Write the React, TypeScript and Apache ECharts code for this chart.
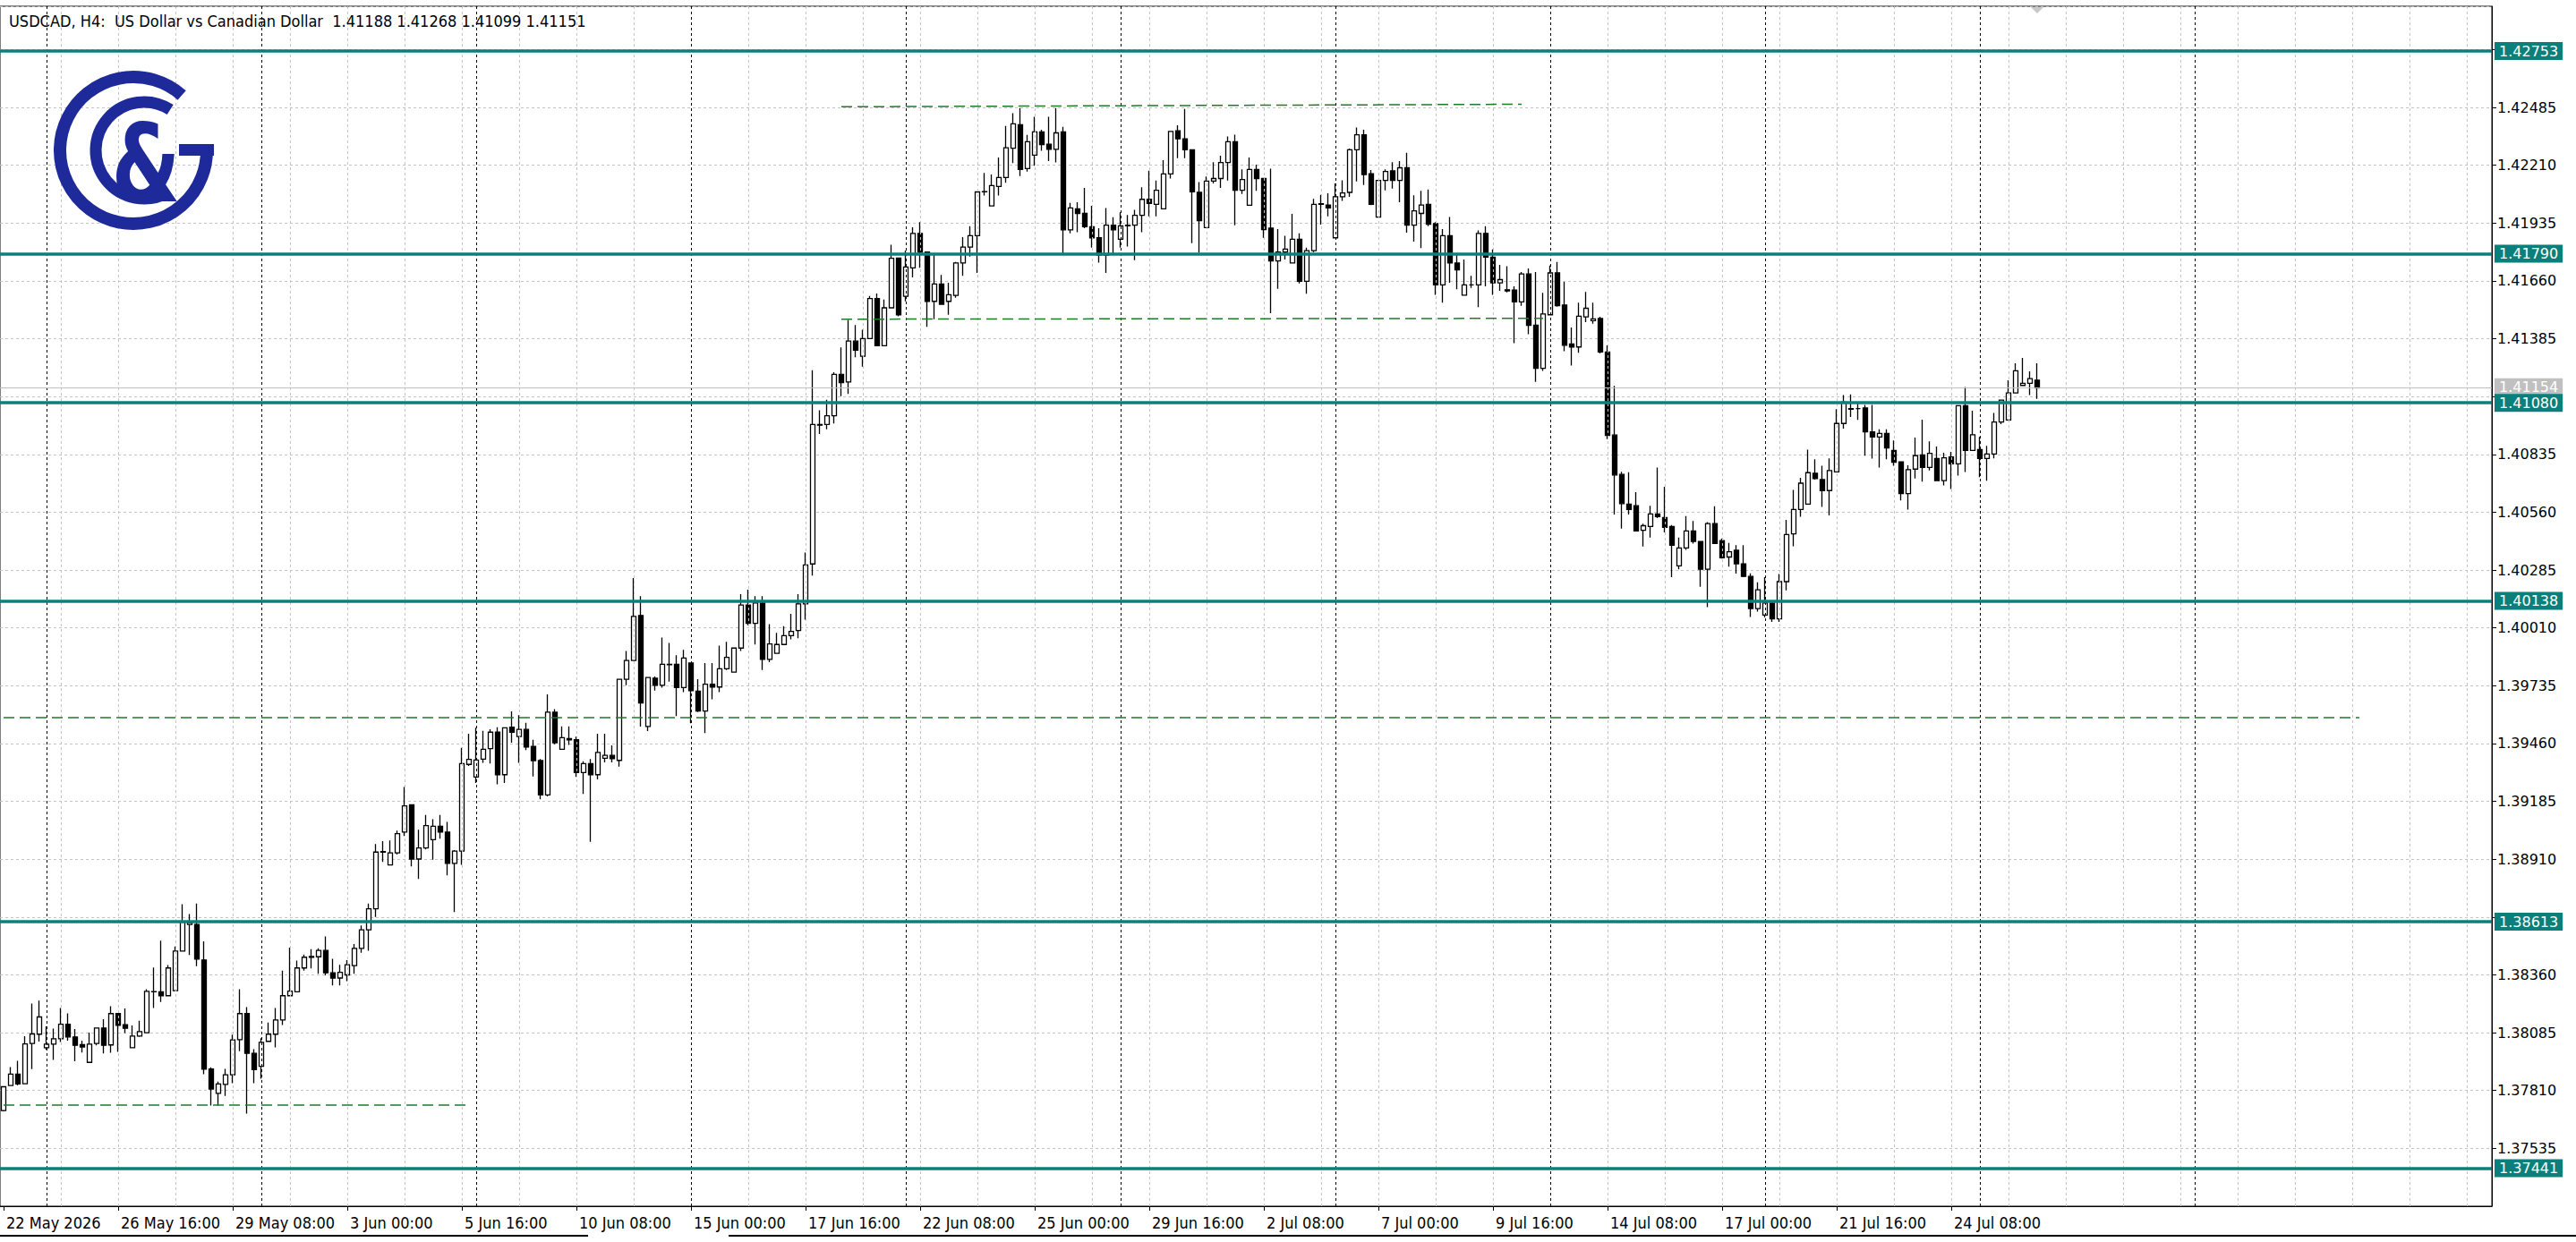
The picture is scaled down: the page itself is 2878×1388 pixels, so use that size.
import React, { useEffect, useRef } from "react";
import * as echarts from "echarts";

// ---------------- data ----------------
const TITLE = "USDCAD, H4:  US Dollar vs Canadian Dollar  1.41188 1.41268 1.41099 1.41151";
const SLOT_COUNT = 348; // H4 slots visible on the time axis (bars + right shift)
const XTICK_EVERY = 16;
const XTICK_LABELS = [
  "22 May 2026", "26 May 16:00", "29 May 08:00", "3 Jun 00:00", "5 Jun 16:00", "10 Jun 08:00",
  "15 Jun 00:00", "17 Jun 16:00", "22 Jun 08:00", "25 Jun 00:00", "29 Jun 16:00", "2 Jul 08:00",
  "7 Jul 00:00", "9 Jul 16:00", "14 Jul 08:00", "17 Jul 00:00", "21 Jul 16:00", "24 Jul 08:00",
];
const Y_MIN = 1.3726;
const Y_MAX = 1.42966;
const Y_STEP = 0.00275;
const Y_HIDDEN = [1.4276, 1.4111, 1.38635];
const LEVELS = [1.42753, 1.4179, 1.4108, 1.40138, 1.38613, 1.37441];
const BID = 1.41154;
// dashed trend lines: [barIndexFrom, priceFrom, barIndexTo, priceTo]
const TRENDS = [
  [117, 1.42488, 212, 1.425],
  [117, 1.41478, 215, 1.41482],
  [0, 1.39585, 329, 1.39585],
  [0, 1.37742, 65, 1.37742],
];

const OPEN = [
  1.37715, 1.37834, 1.37888, 1.37842, 1.38034, 1.38078, 1.38014, 1.38031, 1.38056, 1.38125,
  1.38065, 1.38028, 1.37944, 1.38034, 1.38107, 1.38027, 1.38176, 1.38123, 1.38014, 1.38069,
  1.38085, 1.3828, 1.38279, 1.38261, 1.38285, 1.38473, 1.386, 1.386, 1.38431, 1.37912,
  1.37797, 1.37839, 1.37885, 1.38052, 1.38176, 1.37987, 1.37925, 1.38044, 1.38078, 1.38146,
  1.38261, 1.3828, 1.38393, 1.38444, 1.38446, 1.38476, 1.3837, 1.38345, 1.3836, 1.38404,
  1.38486, 1.38574, 1.38674, 1.38944, 1.38883, 1.3894, 1.39039, 1.39169, 1.38911, 1.38964,
  1.39003, 1.39067, 1.39039, 1.3889, 1.38949, 1.39361, 1.39301, 1.39386, 1.39436, 1.39514,
  1.39312, 1.39538, 1.39493, 1.39527, 1.39446, 1.39379, 1.39216, 1.39609, 1.39433, 1.39478,
  1.39478, 1.39322, 1.39365, 1.39312, 1.3939, 1.39404, 1.3938, 1.39766, 1.39855, 1.40069,
  1.39541, 1.39771, 1.39737, 1.39835, 1.39837, 1.39726, 1.39843, 1.39709, 1.39615, 1.39742,
  1.39729, 1.39816, 1.398, 1.39914, 1.40119, 1.40032, 1.40128, 1.3986, 1.39889, 1.39931,
  1.39973, 1.39998, 1.40124, 1.40314, 1.40977, 1.40977, 1.41019, 1.41216, 1.41179, 1.41374,
  1.41302, 1.41386, 1.41576, 1.41352, 1.41532, 1.41769, 1.41587, 1.41722, 1.41886, 1.41797,
  1.41563, 1.41645, 1.41563, 1.41591, 1.41745, 1.41821, 1.41875, 1.42085, 1.42017, 1.42109,
  1.42152, 1.42291, 1.42403, 1.42194, 1.42258, 1.42369, 1.4231, 1.42286, 1.42369, 1.41903,
  1.42003, 1.41981, 1.41918, 1.41865, 1.41783, 1.41925, 1.41858, 1.41922, 1.41925, 1.41972,
  1.42048, 1.42024, 1.42003, 1.42169, 1.42374, 1.42336, 1.42284, 1.42081, 1.41913, 1.42135,
  1.42147, 1.42223, 1.42322, 1.42091, 1.4202, 1.4219, 1.42147, 1.41911, 1.41755, 1.41797,
  1.41745, 1.41858, 1.41658, 1.41804, 1.42024, 1.42021, 1.41865, 1.4206, 1.42081, 1.42284,
  1.42355, 1.4217, 1.41963, 1.42138, 1.42183, 1.42138, 1.42198, 1.41925, 1.41981, 1.42024,
  1.41932, 1.41641, 1.41875, 1.41745, 1.41592, 1.41641, 1.41641, 1.41886, 1.41773, 1.41651,
  1.41618, 1.41617, 1.4156, 1.41693, 1.41449, 1.41244, 1.41499, 1.41698, 1.41545, 1.4136,
  1.41346, 1.41489, 1.41471, 1.41481, 1.41322, 1.40927, 1.4074, 1.40598, 1.40591, 1.40474,
  1.40492, 1.40552, 1.40535, 1.40492, 1.40305, 1.4039, 1.40471, 1.40421, 1.40289, 1.40506,
  1.40425, 1.40347, 1.40379, 1.40315, 1.40255, 1.40102, 1.40071, 1.40128, 1.40053, 1.4023,
  1.40457, 1.40573, 1.40599, 1.40745, 1.40715, 1.40663, 1.40752, 1.40982, 1.41053, 1.41053,
  1.41056, 1.40942, 1.40918, 1.40935, 1.40854, 1.408, 1.40649, 1.40765, 1.40833, 1.40773,
  1.40816, 1.4071, 1.40823, 1.4079, 1.41067, 1.40854, 1.40858, 1.40816, 1.40837, 1.40989,
  1.40999, 1.41127, 1.41163, 1.41173, 1.41188,
];
const HIGH = [
  1.37831, 1.37922, 1.37951, 1.38068, 1.38224, 1.38238, 1.38115, 1.38105, 1.38203, 1.38177,
  1.38103, 1.38047, 1.38086, 1.38107, 1.38149, 1.38211, 1.38176, 1.382, 1.38119, 1.38142,
  1.38292, 1.38395, 1.38523, 1.38407, 1.38495, 1.38696, 1.38649, 1.38699, 1.38519, 1.37921,
  1.37852, 1.37913, 1.38076, 1.38292, 1.38207, 1.38007, 1.38059, 1.38133, 1.38203, 1.3838,
  1.3849, 1.38428, 1.38457, 1.38482, 1.38486, 1.38543, 1.38436, 1.38408, 1.3843, 1.38507,
  1.38595, 1.38699, 1.38982, 1.38996, 1.38999, 1.39046, 1.39254, 1.39169, 1.3905, 1.3912,
  1.391, 1.39121, 1.39088, 1.38954, 1.3944, 1.39507, 1.39535, 1.39521, 1.39528, 1.39538,
  1.39538, 1.39613, 1.39595, 1.39559, 1.39478, 1.39386, 1.39694, 1.39624, 1.39542, 1.39542,
  1.39493, 1.39376, 1.39386, 1.39507, 1.39507, 1.39451, 1.39766, 1.399, 1.40247, 1.40161,
  1.39774, 1.39779, 1.39964, 1.39939, 1.3988, 1.39906, 1.39843, 1.39766, 1.39843, 1.39843,
  1.39926, 1.39944, 1.39914, 1.4017, 1.40192, 1.40161, 1.40161, 1.40028, 1.39986, 1.40018,
  1.40077, 1.4017, 1.40368, 1.41235, 1.41045, 1.41095, 1.41226, 1.41344, 1.41475, 1.4145,
  1.41428, 1.41588, 1.416, 1.41571, 1.41832, 1.41769, 1.41804, 1.41915, 1.41939, 1.41797,
  1.41783, 1.41688, 1.41651, 1.4175, 1.41868, 1.4192, 1.42084, 1.42173, 1.42166, 1.42247,
  1.42397, 1.42457, 1.42482, 1.42354, 1.4244, 1.42379, 1.4244, 1.42482, 1.42393, 1.42031,
  1.42034, 1.42102, 1.42017, 1.41911, 1.42007, 1.41963, 1.41986, 1.41974, 1.41998, 1.42105,
  1.42184, 1.42137, 1.42234, 1.42371, 1.424, 1.42478, 1.42284, 1.4213, 1.42156, 1.42225,
  1.42255, 1.42347, 1.42355, 1.4219, 1.42247, 1.42213, 1.42147, 1.42194, 1.41906, 1.41875,
  1.41979, 1.41886, 1.41818, 1.4205, 1.42069, 1.42077, 1.42123, 1.42138, 1.42289, 1.42389,
  1.42379, 1.42187, 1.42138, 1.4219, 1.42225, 1.4223, 1.42269, 1.42067, 1.42088, 1.42095,
  1.41939, 1.41906, 1.41964, 1.41787, 1.41762, 1.41684, 1.419, 1.4192, 1.4181, 1.41736,
  1.4173, 1.41634, 1.41702, 1.41719, 1.41702, 1.41603, 1.41733, 1.4175, 1.41655, 1.41438,
  1.41556, 1.41608, 1.41556, 1.41489, 1.41353, 1.41161, 1.40752, 1.4075, 1.40655, 1.40506,
  1.40591, 1.40773, 1.40681, 1.40499, 1.4044, 1.40542, 1.40518, 1.40421, 1.40513, 1.40589,
  1.40435, 1.40414, 1.40403, 1.40403, 1.40269, 1.40227, 1.40251, 1.40128, 1.40266, 1.40524,
  1.40666, 1.40724, 1.40858, 1.40812, 1.40781, 1.40816, 1.4105, 1.41117, 1.4112, 1.41081,
  1.4107, 1.4107, 1.40954, 1.40954, 1.40901, 1.408, 1.40783, 1.40915, 1.41, 1.40897,
  1.40873, 1.40843, 1.40847, 1.41067, 1.41155, 1.41043, 1.40918, 1.40876, 1.41032, 1.41093,
  1.41187, 1.41268, 1.41294, 1.4123, 1.41268,
];
const LOW = [
  1.37711, 1.37831, 1.37834, 1.37842, 1.37912, 1.38043, 1.38004, 1.37956, 1.38041, 1.38047,
  1.37949, 1.37991, 1.37944, 1.38025, 1.37987, 1.3799, 1.37994, 1.38083, 1.38014, 1.38065,
  1.38083, 1.38203, 1.38231, 1.38261, 1.38285, 1.38473, 1.38455, 1.38401, 1.37888, 1.37739,
  1.37739, 1.37784, 1.37845, 1.37997, 1.377, 1.37845, 1.37866, 1.38044, 1.38015, 1.38122,
  1.38261, 1.38278, 1.3838, 1.38391, 1.38365, 1.38358, 1.3831, 1.3831, 1.3833, 1.38365,
  1.38465, 1.38475, 1.38635, 1.38897, 1.3888, 1.38932, 1.3902, 1.38876, 1.38816, 1.38957,
  1.38908, 1.39008, 1.38833, 1.38659, 1.38883, 1.39354, 1.39273, 1.39368, 1.39365, 1.39266,
  1.39273, 1.39464, 1.39368, 1.39429, 1.39304, 1.39195, 1.39209, 1.39457, 1.39433, 1.39454,
  1.39301, 1.3922, 1.38993, 1.3929, 1.3937, 1.3937, 1.3935, 1.39737, 1.39855, 1.39541,
  1.39519, 1.39712, 1.39726, 1.39754, 1.39591, 1.39704, 1.39557, 1.3961, 1.3951, 1.3967,
  1.39704, 1.3981, 1.39799, 1.399, 1.40023, 1.39931, 1.3981, 1.39847, 1.39889, 1.39931,
  1.39956, 1.39961, 1.40049, 1.40259, 1.40932, 1.40954, 1.40982, 1.41112, 1.41122, 1.41297,
  1.41252, 1.41386, 1.41352, 1.41352, 1.41532, 1.41492, 1.41563, 1.41677, 1.41722, 1.41442,
  1.41478, 1.41549, 1.41499, 1.4158, 1.41684, 1.41776, 1.41698, 1.42066, 1.42017, 1.42066,
  1.42127, 1.4222, 1.42159, 1.4218, 1.42208, 1.42279, 1.4223, 1.42223, 1.41783, 1.41886,
  1.41892, 1.41911, 1.41818, 1.41747, 1.41698, 1.4179, 1.41818, 1.41823, 1.41759, 1.41892,
  1.41967, 1.41967, 1.42003, 1.42147, 1.42244, 1.42244, 1.4184, 1.41794, 1.41913, 1.42123,
  1.42102, 1.42137, 1.41925, 1.42074, 1.4202, 1.42088, 1.41865, 1.41506, 1.41623, 1.41762,
  1.41745, 1.41648, 1.41599, 1.41797, 1.41928, 1.41967, 1.41865, 1.42041, 1.4206, 1.42133,
  1.42116, 1.4202, 1.41963, 1.42091, 1.42099, 1.42034, 1.41889, 1.41847, 1.41816, 1.4192,
  1.41594, 1.41556, 1.41651, 1.4162, 1.41592, 1.41627, 1.41535, 1.41634, 1.41594, 1.41613,
  1.41605, 1.41364, 1.41542, 1.41407, 1.4118, 1.41232, 1.41499, 1.41537, 1.41326, 1.41258,
  1.41318, 1.41464, 1.41457, 1.41315, 1.40908, 1.40549, 1.40482, 1.40549, 1.40471, 1.40397,
  1.4044, 1.40532, 1.40464, 1.40251, 1.40289, 1.40381, 1.40411, 1.40206, 1.40109, 1.40411,
  1.4034, 1.40301, 1.40268, 1.40251, 1.40062, 1.40088, 1.4006, 1.40039, 1.40039, 1.40188,
  1.40398, 1.40539, 1.40599, 1.40715, 1.40585, 1.40545, 1.40752, 1.40958, 1.41013, 1.40999,
  1.40829, 1.40815, 1.40772, 1.40812, 1.40781, 1.40616, 1.40573, 1.4072, 1.40705, 1.40759,
  1.4071, 1.40687, 1.4067, 1.40734, 1.40751, 1.40854, 1.40727, 1.4071, 1.40816, 1.40979,
  1.40999, 1.41127, 1.41163, 1.41117, 1.41099,
];
const CLOSE = [
  1.37828, 1.37888, 1.37841, 1.38032, 1.38079, 1.3816, 1.38031, 1.38056, 1.38125, 1.38065,
  1.38025, 1.38017, 1.38031, 1.38107, 1.38025, 1.38176, 1.3812, 1.38106, 1.38069, 1.3809,
  1.38282, 1.38281, 1.38261, 1.38393, 1.38473, 1.38611, 1.38608, 1.38435, 1.37912, 1.37817,
  1.37841, 1.37885, 1.38051, 1.38176, 1.37987, 1.37909, 1.38039, 1.38078, 1.38146, 1.38261,
  1.38283, 1.38393, 1.38444, 1.38448, 1.38476, 1.3837, 1.38345, 1.38372, 1.38408, 1.38486,
  1.38574, 1.38674, 1.38944, 1.38947, 1.3894, 1.39032, 1.39164, 1.38911, 1.38964, 1.3907,
  1.39067, 1.39039, 1.3889, 1.38949, 1.39365, 1.39385, 1.39382, 1.39433, 1.39514, 1.39312,
  1.39535, 1.39514, 1.39527, 1.39443, 1.39379, 1.39216, 1.39609, 1.39464, 1.39488, 1.39484,
  1.39322, 1.39365, 1.39312, 1.39418, 1.39404, 1.39388, 1.39766, 1.39855, 1.40065, 1.39653,
  1.39774, 1.39737, 1.39837, 1.39837, 1.39726, 1.39867, 1.39712, 1.39615, 1.39742, 1.39729,
  1.39816, 1.3987, 1.39914, 1.40119, 1.40032, 1.40128, 1.3986, 1.39934, 1.39931, 1.39973,
  1.39993, 1.40124, 1.40309, 1.40977, 1.40974, 1.41019, 1.41216, 1.41176, 1.41374, 1.41331,
  1.41386, 1.41576, 1.41352, 1.41532, 1.41768, 1.41499, 1.41726, 1.41886, 1.41797, 1.41563,
  1.41645, 1.41549, 1.41594, 1.41745, 1.41821, 1.41875, 1.42083, 1.42084, 1.42113, 1.42152,
  1.42293, 1.42407, 1.4219, 1.42322, 1.42369, 1.42308, 1.42286, 1.42364, 1.41903, 1.42007,
  1.41981, 1.41918, 1.41865, 1.41783, 1.41925, 1.41903, 1.41922, 1.41925, 1.41972, 1.42048,
  1.42028, 1.42091, 1.42169, 1.42371, 1.42336, 1.42284, 1.42084, 1.41946, 1.42135, 1.42147,
  1.42223, 1.42322, 1.42091, 1.42142, 1.4219, 1.42147, 1.41904, 1.41755, 1.41797, 1.41811,
  1.41858, 1.41658, 1.41804, 1.42024, 1.42027, 1.42007, 1.4206, 1.42078, 1.42284, 1.42355,
  1.42166, 1.42024, 1.42138, 1.4218, 1.42138, 1.42198, 1.41925, 1.41993, 1.42021, 1.41929,
  1.41641, 1.41875, 1.41745, 1.41712, 1.41641, 1.41641, 1.41886, 1.41773, 1.41651, 1.41666,
  1.41612, 1.4156, 1.41693, 1.41449, 1.41244, 1.41503, 1.41698, 1.41542, 1.41354, 1.41346,
  1.41492, 1.4153, 1.41479, 1.41322, 1.40925, 1.40737, 1.40601, 1.40573, 1.40471, 1.40496,
  1.40552, 1.40539, 1.40488, 1.40403, 1.4039, 1.40471, 1.40421, 1.40289, 1.40506, 1.40411,
  1.40343, 1.40372, 1.40315, 1.40255, 1.40102, 1.40191, 1.40128, 1.40053, 1.4023, 1.40454,
  1.40573, 1.40698, 1.40748, 1.4072, 1.40663, 1.40758, 1.40982, 1.41084, 1.4105, 1.41053,
  1.40942, 1.40918, 1.40935, 1.40866, 1.40798, 1.40649, 1.40762, 1.40829, 1.40773, 1.4084,
  1.4071, 1.40819, 1.4079, 1.41067, 1.40854, 1.40928, 1.40816, 1.40837, 1.40989, 1.41093,
  1.41127, 1.41233, 1.41173, 1.41195, 1.41151,
];

// ---------------- styling ----------------
const W = 2878;
const H = 1388;
const TEAL = "#0b7f7b";
const NAVY = "#1f2a9a";
const GREEN = "#1f7a2a";
const COND = '"DejaVu Sans Condensed", "Liberation Sans Narrow", "Liberation Sans", sans-serif';
const WIDE = '"DejaVu Sans", Verdana, sans-serif';

const pad = (n: number) => (n < 10 ? "0" + n : "" + n);

function buildSlots(n: number) {
  const names: string[] = [];
  const mondays: number[] = [];
  const d = new Date(Date.UTC(2026, 4, 22));
  while (names.length < n) {
    const wd = d.getUTCDay();
    if (wd !== 0 && wd !== 6) {
      for (let h = 0; h < 24 && names.length < n; h += 4) {
        if (wd === 1 && h === 0) mondays.push(names.length);
        names.push(
          `${d.getUTCFullYear()}.${pad(d.getUTCMonth() + 1)}.${pad(d.getUTCDate())} ${pad(h)}:00`
        );
      }
    }
    d.setUTCDate(d.getUTCDate() + 1);
  }
  return { names, mondays };
}

const priceLabel = (bg: string, text: string) => ({
  show: true,
  position: "end",
  distance: 3,
  formatter: text,
  backgroundColor: bg,
  color: "#fff",
  padding: [3, 5, 1, 5],
  fontFamily: WIDE,
  fontSize: 16,
});

export default function App() {
  const ref = useRef<HTMLDivElement>(null);

  useEffect(() => {
    if (!ref.current) return;
    const chart = echarts.init(ref.current, null, { renderer: "svg", width: W, height: H });
    const { names, mondays } = buildSlots(SLOT_COUNT);
    const lastBar = OPEN.length - 1;
    const showTick = (idx: number) => idx % XTICK_EVERY === 0 && idx / XTICK_EVERY < XTICK_LABELS.length;

    const candles = OPEN.map((o, i) => [o, CLOSE[i], LOW[i], HIGH[i]]);

    const gridLines: any[] = [];
    for (let i = 8; i < SLOT_COUNT; i += 8) {
      gridLines.push({ xAxis: i, lineStyle: { color: "#c4c4c4", type: [3, 3], width: 1 } });
    }
    mondays
      .filter((i) => i <= 310)
      .forEach((i) => gridLines.push({ xAxis: i, lineStyle: { color: "#000", type: [3, 3], width: 1 } }));

    const bidLine = {
      yAxis: BID,
      lineStyle: { color: "#c0c0c0", width: 1, type: "solid" },
      label: priceLabel("#c0c0c0", BID.toFixed(5)),
    };
    const levelLines = LEVELS.map((v) => ({
      yAxis: v,
      lineStyle: { color: TEAL, width: 3.5, type: "solid" },
      label: priceLabel(TEAL, v.toFixed(5)),
    }));
    const trendLines = TRENDS.map(([x1, y1, x2, y2]) => [
      { coord: [x1, y1], lineStyle: { color: GREEN, width: 1.5, type: [12, 6] }, label: { show: false } },
      { coord: [x2, y2] },
    ]);

    const logo: any[] = [
      {
        type: "arc",
        shape: { cx: 149, cy: 168, r: 82, startAngle: -0.06, endAngle: Math.PI * 2 - 0.85, clockwise: true },
        style: { stroke: NAVY, lineWidth: 14, fill: null },
        z: 10,
      },
      {
        type: "rect",
        shape: { x: 200, y: 161, width: 39, height: 13 },
        style: { fill: NAVY },
        z: 10,
      },
      {
        type: "arc",
        shape: { cx: 161, cy: 168, r: 54, startAngle: 1.05, endAngle: Math.PI * 2 - 1.0, clockwise: true },
        style: { stroke: NAVY, lineWidth: 13, fill: null },
        z: 10,
      },
      {
        type: "text",
        x: 163,
        y: 183,
        scaleX: 0.72,
        style: {
          text: "&",
          font: 'bold 122px "DejaVu Sans", sans-serif',
          fill: NAVY,
          align: "center",
          verticalAlign: "middle",
        },
        z: 10,
      },
      { type: "line", shape: { x1: 0, y1: 1381, x2: 657, y2: 1381 }, style: { stroke: "#000", lineWidth: 2 } },
      { type: "line", shape: { x1: 814, y1: 1381, x2: W, y2: 1381 }, style: { stroke: "#000", lineWidth: 2 } },
    ];

    const option: any = {
      animation: false,
      backgroundColor: "#fff",
      title: {
        text: TITLE,
        left: 10,
        top: 14,
        padding: 0,
        textStyle: { fontSize: 18, fontWeight: "normal", fontFamily: COND, color: "#000" },
      },
      grid: {
        left: 0,
        top: 7,
        width: 2784,
        height: 1341,
        show: true,
        borderColor: "#000",
        borderWidth: 1,
        backgroundColor: "#fff",
        containLabel: false,
      },
      xAxis: {
        type: "category",
        data: names,
        boundaryGap: true,
        axisLine: { show: true, lineStyle: { color: "#000", width: 1 } },
        axisTick: {
          show: true,
          alignWithLabel: true,
          interval: (idx: number) => showTick(idx),
          length: 5,
          lineStyle: { color: "#000" },
        },
        axisLabel: {
          interval: (idx: number) => showTick(idx),
          formatter: (_v: string, idx: number) => XTICK_LABELS[idx / XTICK_EVERY] || "",
          align: "left",
          margin: 9,
          padding: [0, 0, 0, 3],
          color: "#000",
          fontFamily: COND,
          fontSize: 18,
        },
        splitLine: { show: false },
      },
      yAxis: {
        type: "value",
        position: "right",
        min: Y_MIN,
        max: Y_MAX,
        interval: Y_STEP,
        scale: true,
        axisLine: { show: true, lineStyle: { color: "#000" } },
        axisTick: { show: true, length: 5, lineStyle: { color: "#000" } },
        axisLabel: {
          showMinLabel: false,
          showMaxLabel: false,
          margin: 6,
          color: "#000",
          fontFamily: WIDE,
          fontSize: 16,
          formatter: (v: number) => (Y_HIDDEN.some((h) => Math.abs(h - v) < 1e-6) ? "" : v.toFixed(5)),
        },
        splitLine: { show: true, lineStyle: { color: "#c4c4c4", type: [3, 3], width: 1 } },
      },
      series: [
        {
          type: "line",
          data: [],
          z: 1,
          silent: true,
          markLine: { silent: true, symbol: "none", animation: false, label: { show: false }, data: gridLines },
        },
        {
          type: "candlestick",
          data: candles,
          barWidth: 5,
          z: 2,
          silent: true,
          itemStyle: { color: "#fff", color0: "#000", borderColor: "#000", borderColor0: "#000", borderWidth: 1.3 },
        },
        {
          type: "line",
          data: [],
          z: 3,
          silent: true,
          markLine: {
            silent: true,
            symbol: "none",
            animation: false,
            precision: 6,
            data: [bidLine, ...levelLines, ...trendLines],
          },
        },
      ],
      graphic: logo,
    };

    chart.setOption(option);
    const p = chart.convertToPixel({ xAxisIndex: 0 }, lastBar) as number;
    if (typeof p === "number" && isFinite(p)) {
      chart.setOption({
        graphic: [
          ...logo,
          {
            type: "polygon",
            shape: { points: [[p - 7, 8], [p + 7, 8], [p, 15]] },
            style: { fill: "#c8c8c8" },
          },
        ],
      });
    }
    return () => chart.dispose();
  }, []);

  return (
    <div
      ref={ref}
      style={{ position: "fixed", left: 0, top: 0, width: W, height: H, background: "#fff" }}
    />
  );
}
